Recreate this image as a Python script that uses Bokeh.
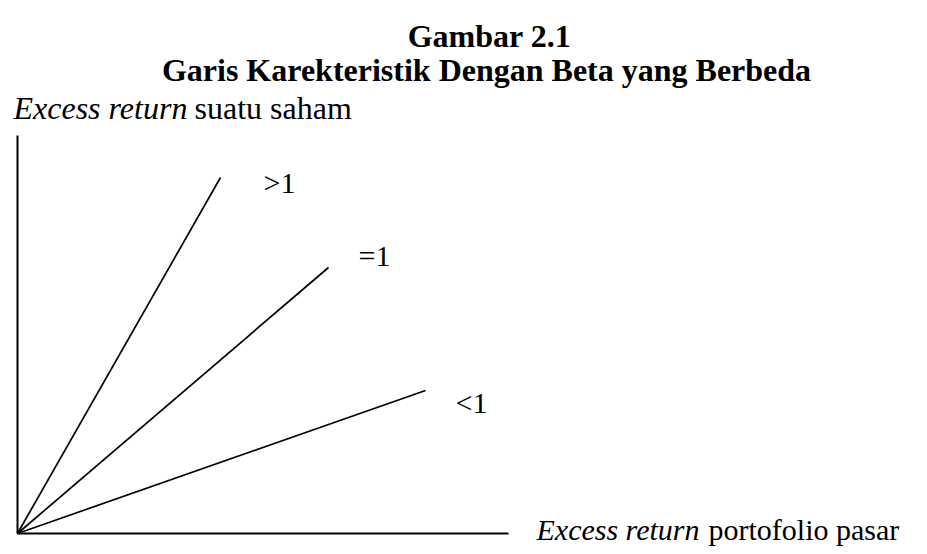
from bokeh.plotting import figure
from bokeh.models import Range1d, Label, ColumnDataSource
from bokeh.embed import file_html
from bokeh.resources import INLINE

# ---- data ----
title_lines = ["Gambar 2.1", "Garis Karekteristik Dengan Beta yang Berbeda"]
y_label_italic = "Excess return"
y_label_rest = "suatu saham"
x_label_italic = "Excess return"
x_label_rest = "portofolio pasar"

beta_labels = [">1", "=1", "<1"]
# end point of each characteristic line (market excess return, stock excess return)
line_end_x = [203, 311, 408]
line_end_y = [356, 266, 143]
axis_x_max = 491
axis_y_max = 398

# ---- layout ----
W, H = 919, 546          # canvas size
FONT = "Liberation Serif"
p = figure(width=W, height=H, output_backend="svg", toolbar_location=None,
           x_range=Range1d(-17, W - 17), y_range=Range1d(-(H - 533), 533),
           min_border=0, outline_line_color=None)
p.axis.visible = False
p.grid.visible = False
p.background_fill_color = "white"
p.border_fill_color = "white"

# axes
p.line([0, axis_x_max], [0, 0], line_color="black", line_width=2)
p.line([0, 0], [0, axis_y_max], line_color="black", line_width=2)

# characteristic lines
src = ColumnDataSource(dict(x0=[0] * 3, y0=[0] * 3, x1=line_end_x, y1=line_end_y))
p.segment(x0="x0", y0="y0", x1="x1", y1="y1", source=src, line_color="black", line_width=1.7)

# beta labels (offsets from line ends, in pixels)
lab_dx = [43, 30, 30]
lab_dy = [-5, 12, -12]
for lx, ly, t, dx, dy in zip(line_end_x, line_end_y, beta_labels, lab_dx, lab_dy):
    p.add_layout(Label(x=lx, y=ly, x_offset=dx, y_offset=dy, text=t,
                       text_font=FONT, text_font_size="30px", text_color="black",
                       text_baseline="alphabetic", text_align="left"))

def page_label(text, px, py, size, style="normal", align="left"):
    p.add_layout(Label(x=px, y=H - py, x_units="screen", y_units="screen", text=text,
                       text_font=FONT, text_font_size=size, text_font_style=style,
                       text_color="black", text_baseline="alphabetic", text_align=align))

# title
page_label(title_lines[0], 489, 35, "32px", "bold", "center")
page_label(title_lines[1], 486, 69, "32px", "bold", "center")

# y label (top left)
page_label(y_label_italic, 13, 107, "32px", "italic")
page_label(y_label_rest, 194, 107, "32px")

# x label (bottom right)
page_label(x_label_italic, 536, 529, "30px", "italic")
page_label(x_label_rest, 708, 529, "30px")

open("out.html", "w").write(file_html(p, INLINE))
